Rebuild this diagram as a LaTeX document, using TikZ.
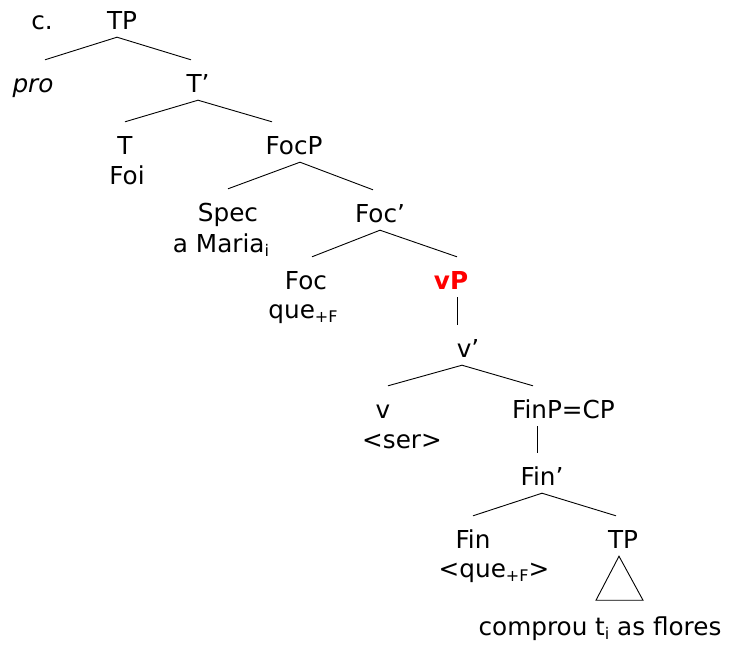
\documentclass[tikz,border=0pt]{standalone}
\usepackage{fontspec}
\setmainfont{DejaVu Sans}
\newcommand{\subidx}[1]{\raisebox{-4pt}{\fontsize{16}{16}\selectfont #1}}

\begin{document}
\begin{tikzpicture}[x=1pt, y=-1pt,
    every node/.style={font=\fontsize{24.7}{30}\selectfont},
    lbl/.style={inner sep=0pt, anchor=base, text height=32pt, text depth=8pt},
    branch/.style={line width=0.9pt}]
    \useasboundingbox (0,0) rectangle (731,646);

    \node[lbl] (ex) at (42,29) {c.};
    \node[lbl] (tp) at (122,29) {TP};
    \node[lbl] (pro) at (33,92) {\textit{pro}};
    \node[lbl] (tbar) at (198,92) {T’};
    \node[lbl] (t) at (125,154) {T};
    \node[lbl] (foi) at (127,184) {Foi};
    \node[lbl] (focp) at (294,154) {FocP};
    \node[lbl] (spec) at (228,221) {Spec};
    \node[lbl] (maria) at (221,252) {a Maria\subidx{i}};
    \node[lbl] (focbar) at (380,222) {Foc’};
    \node[lbl] (foc) at (306,289) {Foc};
    \node[lbl] (que) at (303,318) {que\subidx{+F}};
    \node[lbl, text=red] (vp) at (451,289) {\bfseries vP};
    \node[lbl] (vbar) at (468,357) {v’};
    \node[lbl] (v) at (383,418) {v};
    \node[lbl] (ser) at (402,448) {<ser>};
    \node[lbl] (finp) at (537,418) {FinP\rlap{=CP}};
    \node[lbl] (finbar) at (542,485) {Fin’};
    \node[lbl] (fin) at (473,548) {Fin};
    \node[lbl] (quef) at (494,577) {<que\subidx{+F}>};
    \node[lbl] (tpl) at (623,548) {TP};
    \node[lbl] (comprou) at (600,635) {comprou t\subidx{i} as flores};

    \draw[branch] ([xshift=12pt]pro.north) -- ([xshift=-5pt]tp.south) -- ([xshift=-7pt]tbar.north);
    \draw[branch] (t.north) -- (tbar.south) -- ([xshift=-22pt]focp.north);
    \draw[branch] (spec.north) -- ([xshift=6pt]focp.south) -- ([xshift=-7pt]focbar.north);
    \draw[branch] ([xshift=6pt]foc.north) -- (focbar.south) -- ([xshift=6pt]vp.north);
    \draw[branch] ([xshift=6pt]vp.south) -- ([xshift=-11pt]vbar.north);
    \draw[branch] ([xshift=5pt]v.north) -- ([xshift=-6pt]vbar.south) -- ([xshift=-4pt]finp.north);
    \draw[branch] (finp.south) -- ([xshift=-5pt]finbar.north);
    \draw[branch] (fin.north) -- (finbar.south) -- ([xshift=-7pt]tpl.north);

    \draw[branch] ([xshift=-4pt]tpl.south) -- ++(-23,44) -- ++(47,0) -- cycle;
\end{tikzpicture}
\end{document}
